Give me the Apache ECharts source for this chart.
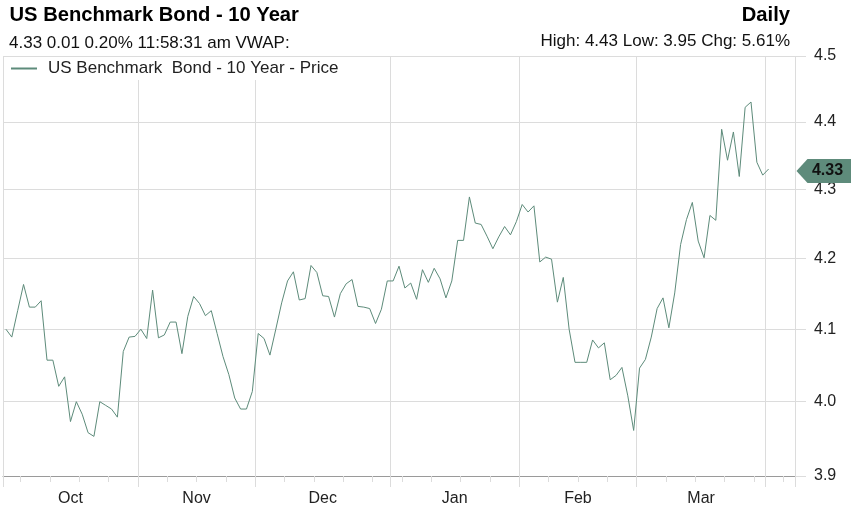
<!DOCTYPE html>
<html>
<head>
<meta charset="utf-8">
<script src="https://cdn.jsdelivr.net/npm/echarts@6/dist/echarts.min.js"></script>
<style>
html,body{margin:0;padding:0;background:#fff;}
#c{width:851px;height:519px;}
</style>
</head>
<body>
<div id="c"></div>
<script>
// ---------- data ----------
const dates = [
 '2025-10-01','2025-10-02','2025-10-03','2025-10-06','2025-10-07','2025-10-08','2025-10-09','2025-10-10',
 '2025-10-13','2025-10-14','2025-10-15','2025-10-16','2025-10-17','2025-10-20','2025-10-21','2025-10-22',
 '2025-10-23','2025-10-24','2025-10-27','2025-10-28','2025-10-29','2025-10-30','2025-10-31',
 '2025-11-03','2025-11-04','2025-11-05','2025-11-06','2025-11-07','2025-11-10','2025-11-11','2025-11-12',
 '2025-11-13','2025-11-14','2025-11-17','2025-11-18','2025-11-19','2025-11-20','2025-11-21','2025-11-24',
 '2025-11-25','2025-11-26','2025-11-27','2025-11-28',
 '2025-12-01','2025-12-02','2025-12-03','2025-12-04','2025-12-05','2025-12-08','2025-12-09','2025-12-10',
 '2025-12-11','2025-12-12','2025-12-15','2025-12-16','2025-12-17','2025-12-18','2025-12-19','2025-12-22',
 '2025-12-23','2025-12-24','2025-12-25','2025-12-26','2025-12-29','2025-12-30','2025-12-31',
 '2026-01-01','2026-01-02','2026-01-05','2026-01-06','2026-01-07','2026-01-08','2026-01-09','2026-01-12',
 '2026-01-13','2026-01-14','2026-01-15','2026-01-16','2026-01-19','2026-01-20','2026-01-21','2026-01-22',
 '2026-01-23','2026-01-26','2026-01-27','2026-01-28','2026-01-29','2026-01-30',
 '2026-02-02','2026-02-03','2026-02-04','2026-02-05','2026-02-06','2026-02-09','2026-02-10','2026-02-11',
 '2026-02-12','2026-02-13','2026-02-16','2026-02-17','2026-02-18','2026-02-19','2026-02-20','2026-02-23',
 '2026-02-24','2026-02-25','2026-02-26','2026-02-27',
 '2026-03-02','2026-03-03','2026-03-04','2026-03-05','2026-03-06','2026-03-09','2026-03-10','2026-03-11',
 '2026-03-12','2026-03-13','2026-03-16','2026-03-17','2026-03-18','2026-03-19','2026-03-20','2026-03-23',
 '2026-03-24','2026-03-25','2026-03-26','2026-03-27','2026-03-30','2026-03-31',
 '2026-04-01','2026-04-02','2026-04-03','2026-04-06','2026-04-07'
];

const prices = [
 4.100,4.089,4.126,4.163,4.131,4.131,4.140,4.057,4.057,4.021,4.034,3.973,4.000,3.983,3.958,3.953,
 4.000,3.995,3.990,3.979,4.069,4.089,4.090,
 4.100,4.087,4.155,4.088,4.092,4.110,4.110,4.066,4.118,4.146,4.136,4.119,4.126,4.094,4.062,4.037,
 4.005,3.990,3.990,4.014,
 4.094,4.087,4.064,4.100,4.137,4.168,4.181,4.141,4.143,4.190,4.180,4.147,4.146,4.117,4.150,4.164,
 4.170,4.132,4.131,4.129,4.108,4.128,4.168,
 4.168,4.189,4.158,4.165,4.142,4.184,4.166,4.186,4.171,4.144,4.168,4.226,4.226,4.289,4.251,4.249,
 4.232,4.214,4.231,4.246,4.234,4.253,
 4.278,4.267,4.276,4.195,4.202,4.199,4.138,4.173,4.100,4.054,4.054,4.054,4.085,4.074,4.081,4.030,
 4.036,4.047,4.008,3.961,
 4.046,4.058,4.089,4.129,4.144,4.102,4.151,4.220,4.256,4.281,4.225,4.201,4.262,4.255,4.389,4.343,
 4.385,4.319,4.422,4.430,4.340,4.321,
 4.330
];

const monthLabels = ['Oct','Nov','Dec','Jan','Feb','Mar'];
const yTickValues = [3.9, 4.0, 4.1, 4.2, 4.3, 4.4, 4.5];

const titleText = 'US Benchmark Bond - 10 Year';
const quoteText = '4.33 0.01 0.20% 11:58:31 am VWAP:';
const periodText = 'Daily';
const rangeText = 'High: 4.43 Low: 3.95 Chg: 5.61%';
const seriesName = 'US Benchmark  Bond - 10 Year - Price';

// ---------- layout / style ----------
const FONT = "'Liberation Sans', Arial, sans-serif";
const LINE = '#5d8b7a';
const TAG = '#5e8b7b';
const GRID = '#dcdcdc';
const W = 851, gridLeft = 3, gridRight = 56;
const band = (W - gridLeft - gridRight) / dates.length;

const monthKey = d => d.slice(0, 7);
const monthStart = dates.map((d, i) => i === 0 || monthKey(d) !== monthKey(dates[i - 1]));
const isMonday = dates.map(d => new Date(d + 'T00:00:00Z').getUTCDay() === 1);

const labelAt = {};
(function () {
  let s = 0, m = 0;
  for (let i = 1; i <= dates.length; i++) {
    if (i === dates.length || monthStart[i]) {
      if (m < monthLabels.length) {
        const mid = (s + i - 1) / 2;
        const idx = Math.ceil(mid);
        labelAt[idx] = { name: monthLabels[m], shift: idx !== mid };
      }
      m++; s = i;
    }
  }
})();

const lastIdx = prices.length - 1;

const chart = echarts.init(document.getElementById('c'), null, { renderer: 'canvas' });

const option = {
  animation: false,
  backgroundColor: '#fff',
  textStyle: { fontFamily: FONT },
  title: [
    { text: titleText, left: 9.5, top: 5.5, padding: 0,
      textStyle: { fontFamily: FONT, fontSize: 20.2, fontWeight: 'bold', color: '#000' } },
    { text: quoteText, left: 9, top: 34.5, padding: 0,
      textStyle: { fontFamily: FONT, fontSize: 17, fontWeight: 'normal', color: '#111' } },
    { text: periodText, right: 61, top: 5.5, padding: 0,
      textStyle: { fontFamily: FONT, fontSize: 20.2, fontWeight: 'bold', color: '#000' } },
    { text: rangeText, right: 61, top: 33, padding: 0,
      textStyle: { fontFamily: FONT, fontSize: 17, fontWeight: 'normal', color: '#111' } }
  ],
  legend: {
    left: 4, top: 57, padding: [3, 6, 3, 6],
    backgroundColor: '#fff',
    itemWidth: 26, itemHeight: 14,
    itemStyle: { opacity: 0, borderWidth: 0 },
    textStyle: { fontFamily: FONT, fontSize: 17, color: '#222', padding: [0, 0, 0, 6] },
    data: [seriesName]
  },
  grid: { left: gridLeft, right: gridRight, top: 56, bottom: 43, containLabel: false },
  xAxis: [
    {
      type: 'category', data: dates, boundaryGap: true,
      axisLine: { show: true, lineStyle: { color: '#9a9a9a', width: 1 } },
      axisTick: { show: true, interval: i => monthStart[i], length: 11, lineStyle: { color: GRID } },
      splitLine: { show: true, interval: i => monthStart[i], lineStyle: { color: GRID, width: 1 } },
      axisLabel: {
        show: true, interval: i => !!labelAt[i], margin: 15,
        fontFamily: FONT, fontSize: 16, color: '#222',
        formatter: (v, i) => {
          const l = labelAt[i];
          if (!l) return '';
          return l.shift ? '{s|' + l.name + '}' : '{n|' + l.name + '}';
        },
        rich: {
          s: { padding: [0, band, 0, 0], fontFamily: FONT, fontSize: 16, color: '#222' },
          n: { fontFamily: FONT, fontSize: 16, color: '#222' }
        }
      }
    },
    {
      type: 'category', data: dates, boundaryGap: true, position: 'bottom', gridIndex: 0,
      axisLine: { show: false },
      axisLabel: { show: false },
      splitLine: { show: false },
      axisTick: { show: true, interval: i => isMonday[i] && !monthStart[i], length: 6, lineStyle: { color: GRID } }
    }
  ],
  yAxis: {
    type: 'log', logBase: 10, position: 'right', min: 3.9, max: 4.5,
    axisLine: { show: false },
    axisTick: { show: true, length: 11, customValues: yTickValues, lineStyle: { color: GRID } },
    axisLabel: { show: true, customValues: yTickValues, margin: 19,
      formatter: v => Number(v).toFixed(1),
      fontFamily: FONT, fontSize: 16, color: '#222' },
    splitLine: { show: true, lineStyle: { color: GRID, width: 1 } }
  },
  series: [{
    name: seriesName, type: 'line', data: prices,
    symbol: 'none', showSymbol: false,
    lineStyle: { width: 1, color: LINE },
    itemStyle: { color: LINE },
    markPoint: {
      symbol: 'path://M0,12 L11,0 L56,0 L56,24 L11,24 Z',
      symbolSize: [56, 24],
      symbolKeepAspect: false,
      symbolOffset: [band / 2 + 1.5 + 28, 2],
      itemStyle: { color: TAG },
      label: { show: true, position: 'inside', offset: [3, 0],
        formatter: () => prices[lastIdx].toFixed(2),
        fontFamily: FONT, fontSize: 16, fontWeight: 'bold', color: '#111' },
      data: [{ coord: [dates[dates.length - 1], prices[lastIdx]] }]
    }
  }]
};

chart.setOption(option);
</script>
</body>
</html>
